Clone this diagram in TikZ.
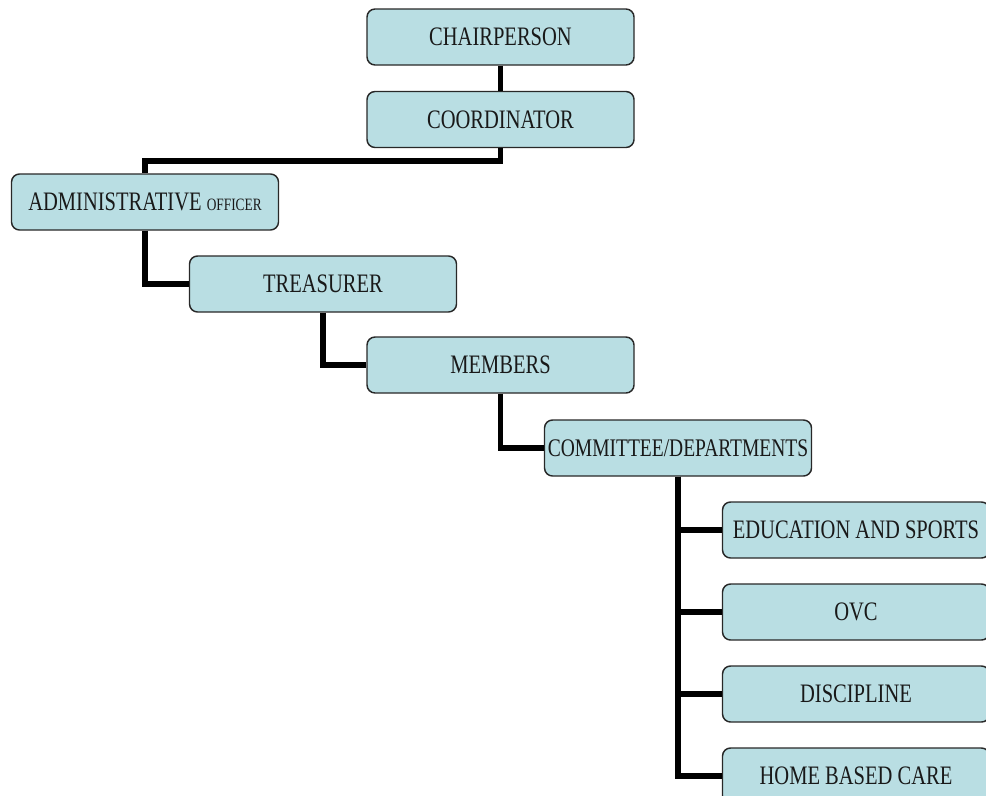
\documentclass[tikz,border=0pt]{standalone}
\usepackage{fontspec}
\setmainfont{Liberation Serif}[FakeStretch=0.77]
\definecolor{boxfill}{RGB}{185,222,227}
\definecolor{boxline}{RGB}{40,40,40}
\begin{document}
\begin{tikzpicture}[x=0.75pt,y=-0.75pt,
  orgbox/.style={draw=boxline,line width=1.1pt,fill=boxfill,rounded corners=6pt,
    minimum width=200.25pt,minimum height=42pt,inner sep=0pt,
    font=\fontsize{20}{22}\selectfont,text=black!90},
  link/.style={line width=4pt,draw=black}]
\useasboundingbox (0,0) rectangle (986,796);
\clip (0,0) rectangle (986,796);
\node[orgbox] (chair) at (500.5,37) {CHAIRPERSON};
\node[orgbox] (coord) at (500.5,119.5) {COORDINATOR};
\node[orgbox] (admin) at (145,202) {ADMINISTRATIVE {\fontsize{13}{14}\selectfont OFFICER}};
\node[orgbox] (treas) at (323,284) {TREASURER};
\node[orgbox] (memb) at (500.5,365) {MEMBERS};
\node[orgbox,font=\fontsize{19}{22}\selectfont] (comm) at (678,448) {COMMITTEE/DEPARTMENTS};
\node[orgbox] (edu) at (856,530) {EDUCATION AND SPORTS};
\node[orgbox] (ovc) at (856,612) {OVC};
\node[orgbox] (disc) at (856,694) {DISCIPLINE};
\node[orgbox] (home) at (856,776) {HOME BASED CARE};
\coordinate (j1) at (500.5,161);
\draw[link] (chair.south) -- (coord.north);
\draw[link] (coord.south) -- (j1) -| (admin.north);
\draw[link] (admin.south) |- (treas.west);
\draw[link] (treas.south) |- (memb.west);
\draw[link] (memb.south) |- (comm.west);
\draw[link] (comm.south) |- (edu.west);
\draw[link] (comm.south) |- (ovc.west);
\draw[link] (comm.south) |- (disc.west);
\draw[link] (comm.south) |- (home.west);
\end{tikzpicture}
\end{document}
